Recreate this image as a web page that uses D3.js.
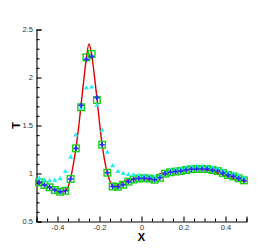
<!DOCTYPE html>
<html>
<head>
<meta charset="utf-8">
<script src="https://cdn.jsdelivr.net/npm/d3@7"></script>
<style>
  body { margin: 0; background: #fff; }
  svg text { font-family: "Liberation Sans", Arial, sans-serif; }
</style>
</head>
<body>
<div id="view"></div>
<script>
// cell centres of the 40-point grid
const xs = [-0.4875, -0.4625, -0.4375, -0.4125, -0.3875, -0.3625, -0.3375, -0.3125, -0.2875, -0.2625,
            -0.2375, -0.2125, -0.1875, -0.1625, -0.1375, -0.1125, -0.0875, -0.0625, -0.0375, -0.0125,
             0.0125,  0.0375,  0.0625,  0.0875,  0.1125,  0.1375,  0.1625,  0.1875,  0.2125,  0.2375,
             0.2625,  0.2875,  0.3125,  0.3375,  0.3625,  0.3875,  0.4125,  0.4375,  0.4625,  0.4875];

// blue plus markers
const blueT = [0.908, 0.880, 0.856, 0.828, 0.810, 0.820, 0.943, 1.262, 1.710, 2.190,
               2.220, 1.790, 1.300, 1.008, 0.865, 0.862, 0.883, 0.915, 0.937, 0.948,
               0.950, 0.947, 0.935, 0.955, 0.998, 1.013, 1.020, 1.026, 1.036, 1.044,
               1.047, 1.047, 1.046, 1.036, 1.026, 1.005, 0.984, 0.970, 0.950, 0.929];

// green square markers
const greenT = [0.908, 0.880, 0.856, 0.828, 0.810, 0.820, 0.943, 1.262, 1.690, 2.210,
                2.245, 1.766, 1.300, 1.008, 0.865, 0.862, 0.883, 0.915, 0.937, 0.948,
                0.950, 0.947, 0.935, 0.955, 0.998, 1.013, 1.020, 1.026, 1.036, 1.044,
                1.047, 1.047, 1.046, 1.036, 1.026, 1.005, 0.984, 0.970, 0.950, 0.929];

// cyan triangle markers
const cyanT = [0.950, 0.932, 0.925, 0.929, 0.946, 1.020, 1.170, 1.400, 1.680, 1.890,
               1.900, 1.710, 1.450, 1.220, 1.080, 1.020, 1.000, 0.990, 0.985, 0.980,
               0.975, 0.970, 0.960, 0.975, 1.010, 1.030, 1.040, 1.050, 1.060, 1.065,
               1.070, 1.070, 1.065, 1.060, 1.050, 1.030, 1.010, 0.995, 0.975, 0.955];

// red reference line
const lineX = [-0.5, -0.4875, -0.4625, -0.4375, -0.4125, -0.3875, -0.3625, -0.35, -0.3375, -0.325,
               -0.3125, -0.3, -0.2875, -0.275, -0.2625, -0.25, -0.2375, -0.225, -0.2125, -0.2,
               -0.1875, -0.175, -0.1625, -0.15, -0.1375, -0.125, -0.1125, -0.0875, -0.0625, -0.0375,
               -0.0125, 0.0125, 0.0375, 0.0625, 0.0875, 0.1125, 0.1375, 0.1625, 0.1875, 0.2125,
               0.2375, 0.2625, 0.2875, 0.3125, 0.3375, 0.3625, 0.3875, 0.4125, 0.4375, 0.4625,
               0.4875, 0.5];
const lineT = [0.920, 0.908, 0.880, 0.856, 0.828, 0.810, 0.818, 0.860, 0.950, 1.090,
               1.260, 1.470, 1.720, 1.970, 2.200, 2.350, 2.240, 2.030, 1.790, 1.530,
               1.300, 1.130, 1.005, 0.920, 0.870, 0.862, 0.880, 0.915, 0.937, 0.948,
               0.950, 0.947, 0.935, 0.955, 0.998, 1.013, 1.020, 1.026, 1.036, 1.044,
               1.047, 1.047, 1.046, 1.036, 1.026, 1.005, 0.984, 0.970, 0.950, 0.929,
               0.920, 0.915];

const xMajor = [-0.4, -0.2, 0, 0.2, 0.4];
const xMinor = [-0.5, -0.45, -0.35, -0.3, -0.25, -0.15, -0.1, -0.05, 0.05, 0.1, 0.15, 0.25, 0.3, 0.35, 0.45, 0.5];
const yMajor = [0.5, 1, 1.5, 2, 2.5];
const yMinor = [0.6, 0.7, 0.8, 0.9, 1.1, 1.2, 1.3, 1.4, 1.6, 1.7, 1.8, 1.9, 2.1, 2.2, 2.3, 2.4];

const width = 280;
const height = 249;

const svg = d3.select("#view")
    .append("svg")
        .attr("width", width)
        .attr("height", height);

const x = d3.scaleLinear().domain([-0.5, 0.5]).range([36.5, 246.5]);
const y = d3.scaleLinear().domain([0.5, 2.5]).range([221.5, 29.5]);

const fmt = d => String(+d.toFixed(2));

// axes, ticks pointing inward
const gx = svg.append("g").attr("transform", `translate(0,${y(0.5)})`);
gx.call(d3.axisBottom(x).tickValues(xMajor).tickSize(-5).tickPadding(3).tickFormat(fmt));
gx.append("g").call(d3.axisBottom(x).tickValues(xMinor).tickSize(-3).tickFormat(''))
    .select(".domain").remove();

const gy = svg.append("g").attr("transform", `translate(${x(-0.5)},0)`);
gy.call(d3.axisLeft(y).tickValues(yMajor).tickSize(-5).tickPadding(3.5).tickFormat(fmt));
gy.append("g").call(d3.axisLeft(y).tickValues(yMinor).tickSize(-3).tickFormat(''))
    .select(".domain").remove();

svg.selectAll(".tick text").attr("font-size", 7.5).attr("fill", "#333");
svg.selectAll(".domain, .tick line").attr("stroke", "#000").attr("stroke-width", 1.1);

// axis titles
svg.append("text")
    .attr("x", x(0)).attr("y", 241)
    .attr("text-anchor", "middle")
    .attr("font-size", 11).attr("font-weight", "bold")
    .text("X");
svg.append("text")
    .attr("transform", `translate(20,125.5) rotate(-90)`)
    .attr("text-anchor", "middle")
    .attr("font-size", 11).attr("font-weight", "bold")
    .text("T");

// red line
svg.append("path")
    .datum(d3.zip(lineX, lineT))
    .attr("fill", "none")
    .attr("stroke", "#e00000")
    .attr("stroke-width", 1.4)
    .attr("d", d3.line()
        .curve(d3.curveCatmullRom)
        .x(d => x(d[0]))
        .y(d => y(d[1])));

// green squares
svg.append("g").selectAll("rect")
    .data(d3.zip(xs, greenT))
    .join("rect")
        .attr("x", d => x(d[0]) - 3.3)
        .attr("y", d => y(d[1]) - 3.3)
        .attr("width", 6.6)
        .attr("height", 6.6)
        .attr("fill", "none")
        .attr("stroke", "#19d219")
        .attr("stroke-width", 1.4);

// cyan triangles
svg.append("g").selectAll("path")
    .data(d3.zip(xs, cyanT))
    .join("path")
        .attr("transform", d => `translate(${x(d[0])},${y(d[1])})`)
        .attr("d", d3.symbol(d3.symbolTriangle, 11))
        .attr("fill", "#22f0f0");

// blue plus
svg.append("g").selectAll("path")
    .data(d3.zip(xs, blueT))
    .join("path")
        .attr("transform", d => `translate(${x(d[0])},${y(d[1])})`)
        .attr("d", "M-2.6,0H2.6M0,-2.6V2.6")
        .attr("stroke", "#2a2aff")
        .attr("stroke-width", 1.6);
</script>
</body>
</html>
